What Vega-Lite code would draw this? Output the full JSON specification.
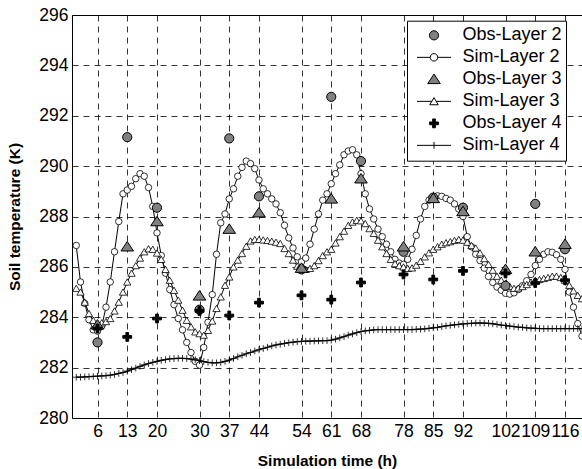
{
  "$schema": "https://vega.github.io/schema/vega-lite/v6.json",
  "width": 510,
  "height": 403,
  "autosize": "none",
  "padding": {"left": 72, "top": 15, "right": 0, "bottom": 51},
  "background": "white",
  "config": {
    "view": {"stroke": "black", "strokeWidth": 1},
    "font": "Liberation Sans",
    "axis": {
      "grid": true, "gridColor": "black", "gridDash": [6, 5], "gridWidth": 0.8, "gridOpacity": 1,
      "domain": false, "ticks": false, "labelFlush": false, "labelOverlap": false,
      "labelFont": "Liberation Sans", "labelFontSize": 17.5, "labelColor": "black",
      "titleFont": "Liberation Sans", "titleFontSize": 15.5, "titleFontWeight": "bold", "titleColor": "black"
    },
    "legend": {
      "title": null, "orient": "none", "legendX": 335, "legendY": 5.7,
      "padding": 4, "strokeColor": "black", "fillColor": "white",
      "symbolSize": 1156, "symbolStrokeColor": "black", "symbolStrokeWidth": 1,
      "labelFont": "Liberation Sans", "labelFontSize": 18, "labelColor": "black", "labelLimit": 300,
      "labelOffset": 11, "symbolOffset": 5.5, "clipHeight": 21.3, "rowPadding": 0
    }
  },
  "datasets": {
    "sim": [
      {"h":1,"a":286.85,"b":285.15,"c":281.62},{"h":2,"a":285.4,"b":285.0,"c":281.62},{"h":3,"a":284.55,"b":284.6,"c":281.63},{"h":4,"a":283.9,"b":284.15,"c":281.64},{"h":5,"a":283.5,"b":283.88,"c":281.65},
      {"h":6,"a":283.45,"b":283.65,"c":281.66},{"h":7,"a":283.65,"b":283.78,"c":281.67},{"h":8,"a":284.4,"b":283.83,"c":281.68},{"h":9,"a":285.4,"b":283.95,"c":281.7},{"h":10,"a":286.6,"b":284.25,"c":281.73},
      {"h":11,"a":287.8,"b":284.6,"c":281.77},{"h":12,"a":288.9,"b":285.0,"c":281.81},{"h":13,"a":289.05,"b":285.4,"c":281.86},{"h":14,"a":289.2,"b":285.75,"c":281.92},{"h":15,"a":289.5,"b":286.05,"c":281.98},
      {"h":16,"a":289.7,"b":286.35,"c":282.05},{"h":17,"a":289.6,"b":286.6,"c":282.11},{"h":18,"a":289.15,"b":286.72,"c":282.16},{"h":19,"a":288.4,"b":286.7,"c":282.21},{"h":20,"a":287.35,"b":286.55,"c":282.25},
      {"h":21,"a":286.45,"b":286.3,"c":282.29},{"h":22,"a":285.75,"b":285.9,"c":282.32},{"h":23,"a":285.1,"b":285.47,"c":282.35},{"h":24,"a":284.5,"b":285.07,"c":282.36},{"h":25,"a":283.95,"b":284.68,"c":282.37},
      {"h":26,"a":283.5,"b":284.28,"c":282.37},{"h":27,"a":283.0,"b":283.88,"c":282.36},{"h":28,"a":282.6,"b":283.62,"c":282.34},{"h":29,"a":282.25,"b":283.42,"c":282.31},{"h":30,"a":282.1,"b":283.35,"c":282.28},
      {"h":31,"a":282.8,"b":283.29,"c":282.24},{"h":32,"a":283.8,"b":283.48,"c":282.21},{"h":33,"a":284.9,"b":283.85,"c":282.19},{"h":34,"a":286.5,"b":284.35,"c":282.19},{"h":35,"a":287.75,"b":284.81,"c":282.21},
      {"h":36,"a":288.1,"b":285.27,"c":282.25},{"h":37,"a":288.7,"b":285.6,"c":282.3},{"h":38,"a":289.1,"b":286.0,"c":282.36},{"h":39,"a":289.6,"b":286.27,"c":282.43},{"h":40,"a":289.95,"b":286.53,"c":282.49},
      {"h":41,"a":290.2,"b":286.82,"c":282.55},{"h":42,"a":290.1,"b":287.03,"c":282.6},{"h":43,"a":289.9,"b":287.09,"c":282.66},{"h":44,"a":289.45,"b":287.09,"c":282.71},{"h":45,"a":289.1,"b":287.07,"c":282.76},
      {"h":46,"a":288.9,"b":287.05,"c":282.81},{"h":47,"a":288.7,"b":287.02,"c":282.86},{"h":48,"a":288.5,"b":286.98,"c":282.9},{"h":49,"a":288.15,"b":286.93,"c":282.93},{"h":50,"a":287.65,"b":286.73,"c":282.96},
      {"h":51,"a":287.15,"b":286.53,"c":282.99},{"h":52,"a":286.75,"b":286.27,"c":283.01},{"h":53,"a":286.4,"b":286.03,"c":283.03},{"h":54,"a":286.2,"b":285.9,"c":283.04},{"h":55,"a":286.35,"b":285.9,"c":283.05},
      {"h":56,"a":286.9,"b":285.94,"c":283.05},{"h":57,"a":287.5,"b":286.05,"c":283.06},{"h":58,"a":288.1,"b":286.25,"c":283.06},{"h":59,"a":288.65,"b":286.45,"c":283.07},{"h":60,"a":288.9,"b":286.6,"c":283.07},
      {"h":61,"a":289.3,"b":286.7,"c":283.09},{"h":62,"a":289.7,"b":286.95,"c":283.13},{"h":63,"a":290.05,"b":287.2,"c":283.18},{"h":64,"a":290.45,"b":287.42,"c":283.23},{"h":65,"a":290.6,"b":287.65,"c":283.29},
      {"h":66,"a":290.65,"b":287.78,"c":283.34},{"h":67,"a":290.45,"b":287.85,"c":283.39},{"h":68,"a":289.7,"b":287.83,"c":283.43},{"h":69,"a":288.9,"b":287.72,"c":283.46},{"h":70,"a":288.3,"b":287.52,"c":283.48},
      {"h":71,"a":287.9,"b":287.33,"c":283.5},{"h":72,"a":287.5,"b":287.06,"c":283.51},{"h":73,"a":287.2,"b":286.8,"c":283.51},{"h":74,"a":286.9,"b":286.53,"c":283.51},{"h":75,"a":286.6,"b":286.3,"c":283.51},
      {"h":76,"a":286.3,"b":286.13,"c":283.51},{"h":77,"a":286.15,"b":286.05,"c":283.51},{"h":78,"a":286.1,"b":286.0,"c":283.51},{"h":79,"a":286.3,"b":285.94,"c":283.51},{"h":80,"a":286.7,"b":285.96,"c":283.51},
      {"h":81,"a":287.25,"b":286.07,"c":283.52},{"h":82,"a":287.9,"b":286.22,"c":283.53},{"h":83,"a":288.4,"b":286.4,"c":283.54},{"h":84,"a":288.65,"b":286.56,"c":283.56},{"h":85,"a":288.78,"b":286.7,"c":283.58},
      {"h":86,"a":288.82,"b":286.8,"c":283.6},{"h":87,"a":288.8,"b":286.9,"c":283.63},{"h":88,"a":288.72,"b":286.96,"c":283.66},{"h":89,"a":288.65,"b":287.0,"c":283.68},{"h":90,"a":288.5,"b":287.05,"c":283.7},
      {"h":91,"a":288.3,"b":287.09,"c":283.72},{"h":92,"a":288.0,"b":287.06,"c":283.74},{"h":93,"a":287.2,"b":286.98,"c":283.75},{"h":94,"a":286.8,"b":286.85,"c":283.76},{"h":95,"a":286.5,"b":286.75,"c":283.77},
      {"h":96,"a":286.25,"b":286.56,"c":283.77},{"h":97,"a":285.95,"b":286.33,"c":283.77},{"h":98,"a":285.62,"b":286.1,"c":283.76},{"h":99,"a":285.38,"b":285.87,"c":283.74},{"h":100,"a":285.2,"b":285.63,"c":283.72},
      {"h":101,"a":285.07,"b":285.47,"c":283.69},{"h":102,"a":284.95,"b":285.34,"c":283.67},{"h":103,"a":284.92,"b":285.23,"c":283.65},{"h":104,"a":284.97,"b":285.15,"c":283.63},{"h":105,"a":285.1,"b":285.16,"c":283.61},
      {"h":106,"a":285.25,"b":285.22,"c":283.6},{"h":107,"a":285.45,"b":285.3,"c":283.58},{"h":108,"a":285.7,"b":285.4,"c":283.57},{"h":109,"a":286.05,"b":285.47,"c":283.56},{"h":110,"a":286.3,"b":285.5,"c":283.55},
      {"h":111,"a":286.5,"b":285.54,"c":283.55},{"h":112,"a":286.6,"b":285.58,"c":283.55},{"h":113,"a":286.58,"b":285.63,"c":283.55},{"h":114,"a":286.48,"b":285.63,"c":283.55},{"h":115,"a":286.3,"b":285.58,"c":283.55},
      {"h":116,"a":285.9,"b":285.47,"c":283.55},{"h":117,"a":285.0,"b":285.27,"c":283.55},{"h":118,"a":284.4,"b":285.05,"c":283.55},{"h":119,"a":283.75,"b":284.87,"c":283.55},{"h":120,"a":283.25,"b":284.74,"c":283.55}
    ],
    "obs": [
      {"h":6,"T":283.0,"s":"Obs-Layer 2"},{"h":13,"T":291.15,"s":"Obs-Layer 2"},{"h":20,"T":288.35,"s":"Obs-Layer 2"},{"h":30,"T":284.3,"s":"Obs-Layer 2"},{"h":37,"T":291.1,"s":"Obs-Layer 2"},
      {"h":44,"T":288.8,"s":"Obs-Layer 2"},{"h":54,"T":285.9,"s":"Obs-Layer 2"},{"h":61,"T":292.75,"s":"Obs-Layer 2"},{"h":68,"T":290.2,"s":"Obs-Layer 2"},{"h":78,"T":286.6,"s":"Obs-Layer 2"},
      {"h":85,"T":288.75,"s":"Obs-Layer 2"},{"h":92,"T":288.35,"s":"Obs-Layer 2"},{"h":102,"T":285.25,"s":"Obs-Layer 2"},{"h":109,"T":288.5,"s":"Obs-Layer 2"},{"h":116,"T":286.7,"s":"Obs-Layer 2"},
      {"h":6,"T":283.7,"s":"Obs-Layer 3"},{"h":13,"T":286.8,"s":"Obs-Layer 3"},{"h":20,"T":287.8,"s":"Obs-Layer 3"},{"h":30,"T":284.85,"s":"Obs-Layer 3"},{"h":37,"T":287.5,"s":"Obs-Layer 3"},
      {"h":44,"T":288.15,"s":"Obs-Layer 3"},{"h":54,"T":285.95,"s":"Obs-Layer 3"},{"h":61,"T":288.7,"s":"Obs-Layer 3"},{"h":68,"T":289.5,"s":"Obs-Layer 3"},{"h":78,"T":286.8,"s":"Obs-Layer 3"},
      {"h":85,"T":288.72,"s":"Obs-Layer 3"},{"h":92,"T":288.2,"s":"Obs-Layer 3"},{"h":102,"T":285.9,"s":"Obs-Layer 3"},{"h":109,"T":286.6,"s":"Obs-Layer 3"},{"h":116,"T":286.9,"s":"Obs-Layer 3"},
      {"h":6,"T":283.55,"s":"Obs-Layer 4"},{"h":13,"T":283.22,"s":"Obs-Layer 4"},{"h":20,"T":283.95,"s":"Obs-Layer 4"},{"h":30,"T":284.25,"s":"Obs-Layer 4"},{"h":37,"T":284.07,"s":"Obs-Layer 4"},
      {"h":44,"T":284.58,"s":"Obs-Layer 4"},{"h":54,"T":284.87,"s":"Obs-Layer 4"},{"h":61,"T":284.7,"s":"Obs-Layer 4"},{"h":68,"T":285.38,"s":"Obs-Layer 4"},{"h":78,"T":285.7,"s":"Obs-Layer 4"},
      {"h":85,"T":285.5,"s":"Obs-Layer 4"},{"h":92,"T":285.84,"s":"Obs-Layer 4"},{"h":102,"T":285.74,"s":"Obs-Layer 4"},{"h":109,"T":285.36,"s":"Obs-Layer 4"},{"h":116,"T":285.47,"s":"Obs-Layer 4"}
    ]
  },
  "encoding": {
    "x": {
      "field": "h", "type": "quantitative",
      "scale": {"domain": [0, 120], "nice": false, "zero": false},
      "axis": {
        "values": [6, 13, 20, 30, 37, 44, 54, 61, 68, 78, 85, 92, 102, 109, 116],
        "labelPadding": 4.5, "title": "Simulation time (h)",
        "titleX": 255, "titleY": 47, "titleBaseline": "alphabetic", "titleAlign": "center"
      }
    }
  },
  "layer": [
    {
      "data": {"name": "sim"},
      "mark": {"type": "line", "stroke": "black", "strokeWidth": 1},
      "encoding": {"y": {"field": "a", "type": "quantitative", "scale": {"domain": [280, 296], "nice": false, "zero": false},
        "axis": {"values": [280, 282, 284, 286, 288, 290, 292, 294, 296], "labelPadding": 4, "title": "Soil temperature (K)",
          "titleX": -52.5, "titleY": 201.5, "titleAngle": -90, "titleAlign": "center", "titleBaseline": "alphabetic"}}}
    },
    {
      "data": {"name": "sim"},
      "mark": {"type": "point", "shape": "circle", "size": 42, "filled": true, "fill": "white", "stroke": "black", "strokeWidth": 0.8, "opacity": 1},
      "encoding": {"y": {"field": "a", "type": "quantitative", "scale": {"domain": [280, 296], "nice": false, "zero": false}, "title": "Soil temperature (K)"}}
    },
    {
      "data": {"name": "sim"},
      "mark": {"type": "line", "stroke": "black", "strokeWidth": 1},
      "encoding": {"y": {"field": "b", "type": "quantitative", "scale": {"domain": [280, 296], "nice": false, "zero": false}, "title": "Soil temperature (K)"}}
    },
    {
      "data": {"name": "sim"},
      "mark": {"type": "point", "shape": "triangle-up", "size": 53, "filled": true, "fill": "white", "stroke": "black", "strokeWidth": 0.8, "opacity": 1},
      "encoding": {"y": {"field": "b", "type": "quantitative", "scale": {"domain": [280, 296], "nice": false, "zero": false}, "title": "Soil temperature (K)"}}
    },
    {
      "data": {"name": "sim"},
      "mark": {"type": "line", "stroke": "black", "strokeWidth": 1.2},
      "encoding": {"y": {"field": "c", "type": "quantitative", "scale": {"domain": [280, 296], "nice": false, "zero": false}, "title": "Soil temperature (K)"}}
    },
    {
      "data": {"name": "sim"},
      "mark": {"type": "point", "shape": "M-1,0H1M0,-1V1", "size": 45, "filled": false, "stroke": "black", "strokeWidth": 0.8, "opacity": 1},
      "encoding": {"y": {"field": "c", "type": "quantitative", "scale": {"domain": [280, 296], "nice": false, "zero": false}, "title": "Soil temperature (K)"}}
    },
    {
      "data": {"name": "obs"},
      "mark": {"type": "point", "filled": true, "strokeWidth": 1, "size": 1156, "opacity": 1},
      "encoding": {
        "y": {"field": "T", "type": "quantitative", "scale": {"domain": [280, 296], "nice": false, "zero": false}, "title": "Soil temperature (K)"},
        "shape": {
          "field": "s", "type": "nominal",
          "scale": {
            "domain": ["Obs-Layer 2", "Sim-Layer 2", "Obs-Layer 3", "Sim-Layer 3", "Obs-Layer 4", "Sim-Layer 4"],
            "range": [
              "M0.27,0A0.27,0.27 0 1,1 -0.27,0A0.27,0.27 0 1,1 0.27,0Z",
              "M-1,0H-0.22M0.22,0H1M0.22,0A0.22,0.22 0 1,1 -0.22,0A0.22,0.22 0 1,1 0.22,0Z",
              "M0,-0.31L0.37,0.25L-0.37,0.25Z",
              "M-1,0H-0.13M0.13,0H1M0,-0.22L0.25,0.2L-0.25,0.2Z",
              "M-0.08,-0.26H0.08V-0.08H0.26V0.08H0.08V0.26H-0.08V0.08H-0.26V-0.08H-0.08Z",
              "M-1,0H1M0,-0.2V0.2"
            ]
          },
          "legend": {"title": null}
        },
        "fill": {
          "field": "s", "type": "nominal",
          "scale": {
            "domain": ["Obs-Layer 2", "Sim-Layer 2", "Obs-Layer 3", "Sim-Layer 3", "Obs-Layer 4", "Sim-Layer 4"],
            "range": ["#808080", "#ffffff", "#808080", "#ffffff", "#000000", "#000000"]
          },
          "legend": {"title": null}
        },
        "stroke": {
          "field": "s", "type": "nominal",
          "scale": {
            "domain": ["Obs-Layer 2", "Sim-Layer 2", "Obs-Layer 3", "Sim-Layer 3", "Obs-Layer 4", "Sim-Layer 4"],
            "range": ["#000000", "#000000", "#000000", "#000000", "#000000", "#000000"]
          },
          "legend": {"title": null}
        }
      }
    }
  ]
}
